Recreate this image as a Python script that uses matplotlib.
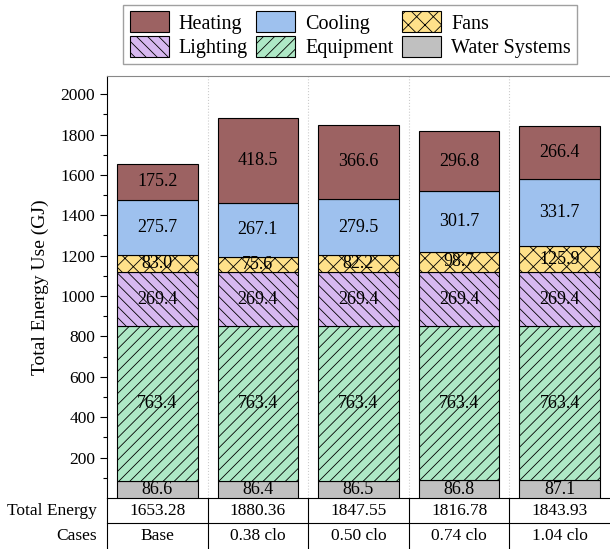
import matplotlib.pyplot as plt
import matplotlib.transforms as mtransforms
from matplotlib.patches import Patch
import numpy as np

plt.rcParams['font.family'] = ['Liberation Serif', 'DejaVu Serif']
plt.rcParams['hatch.linewidth'] = 0.6

cases = ["Base", "0.38 clo", "0.50 clo", "0.74 clo", "1.04 clo"]
totals = ["1653.28", "1880.36", "1847.55", "1816.78", "1843.93"]

water = [86.6, 86.4, 86.5, 86.8, 87.1]
equipment = [763.4, 763.4, 763.4, 763.4, 763.4]
lighting = [269.4, 269.4, 269.4, 269.4, 269.4]
fans = [83.0, 75.6, 82.2, 98.7, 125.9]
cooling = [275.7, 267.1, 279.5, 301.7, 331.7]
heating = [175.2, 418.5, 366.6, 296.8, 266.4]

# stack order bottom -> top
series = [
    ("Water Systems", water, "#c0c0c0", None),
    ("Equipment", equipment, "#aee8c6", "///"),
    ("Lighting", lighting, "#d7b8f0", "\\\\\\"),
    ("Fans", fans, "#ffe18a", "xx"),
    ("Cooling", cooling, "#9ec1ee", None),
    ("Heating", heating, "#9c6262", None),
]

fig = plt.figure(figsize=(6.1, 5.49), dpi=100)
ax = fig.add_axes([0.1754, 0.0929, 0.8246, 0.7687])

x = np.arange(len(cases))
bottom = np.zeros(len(cases))
handles = {}
for name, vals, col, hatch in series:
    vals = np.array(vals)
    ax.bar(x, vals, 0.8, bottom=bottom, color=col, edgecolor="black",
           linewidth=0.8, hatch=hatch, zorder=3)
    for xi, b, v in zip(x, bottom, vals):
        ax.text(xi, b + v / 2, f"{v:.1f}", ha="center", va="center",
                fontsize=13, zorder=4)
    handles[name] = Patch(facecolor=col, edgecolor="black", linewidth=0.8, hatch=hatch)
    bottom += vals

ax.set_xlim(-0.5, 4.5)
ax.set_ylim(0, 2090)
ax.set_yticks(np.arange(200, 2001, 200))
ax.set_yticks(np.arange(100, 2001, 100), minor=True)
ax.tick_params(axis="y", which="major", length=5, width=0.8, labelsize=12.5)
ax.tick_params(axis="y", which="minor", length=3, width=0.8)
ax.set_xticks([])
ax.set_ylabel("Total Energy Use (GJ)", fontsize=14, labelpad=8)
ax.spines["right"].set_visible(False)
ax.spines["top"].set_color("#888888")
for xv in [0.5, 1.5, 2.5, 3.5]:
    ax.axvline(xv, color="#cccccc", linestyle=":", linewidth=0.8, zorder=1)

# table below the axes
trans = mtransforms.blended_transform_factory(ax.transData, ax.transAxes)
row1, row2, div, bot = -0.0308, -0.090, -0.0592, -0.125
for xi in x:
    ax.text(xi, row1, totals[xi], transform=trans, ha="center", va="center", fontsize=12.5)
    ax.text(xi, row2, cases[xi], transform=trans, ha="center", va="center", fontsize=12.5)
ax.text(-0.6, row1, "Total Energy", transform=trans, ha="right", va="center", fontsize=12.5)
ax.text(-0.6, row2, "Cases", transform=trans, ha="right", va="center", fontsize=12.5)
ax.plot([-0.5, 4.5], [div, div], transform=trans, color="black", lw=0.8, clip_on=False)
for xv in [-0.5, 0.5, 1.5, 2.5, 3.5]:
    ax.plot([xv, xv], [0, bot], transform=trans, color="black", lw=0.8, clip_on=False)

order = ["Heating", "Lighting", "Cooling", "Equipment", "Fans", "Water Systems"]
fig.legend([handles[n] for n in order], order, loc="upper center",
           bbox_to_anchor=(0.574, 0.998), borderaxespad=0.2, ncol=3, fontsize=14.5,
           frameon=True, fancybox=False, edgecolor="#888888", handlelength=1.95,
           handleheight=1.25, handletextpad=0.5, columnspacing=0.4,
           labelspacing=0.12, borderpad=0.3)

fig.savefig("out.png", dpi=100)
